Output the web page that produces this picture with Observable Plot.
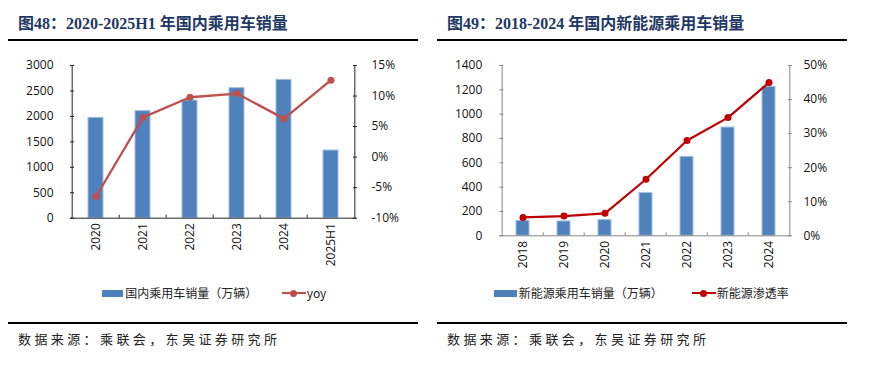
<!DOCTYPE html>
<html><head><meta charset="utf-8">
<script src="https://cdn.jsdelivr.net/npm/d3@7"></script>
<script src="https://cdn.jsdelivr.net/npm/@observablehq/plot@0.6"></script>
<style>
body{margin:0;background:#fff;width:895px;height:373px;position:relative;overflow:hidden;}
.title{position:absolute;top:15px;font:bold 16px "Liberation Serif","Noto Sans CJK SC",serif;color:#1F3864;white-space:nowrap;line-height:18px}
.rule{position:absolute;height:2px;background:#000}
.src{position:absolute;top:332px;font:13px/13px "Noto Sans CJK SC",sans-serif;letter-spacing:3.4px;color:#222;white-space:nowrap}
.chart{position:absolute;top:55px}
.lg{position:absolute;font:12px/12px "Noto Sans CJK SC",sans-serif;color:#222;white-space:nowrap}
.sw{position:absolute;height:7px;background:#4F81BD}
.ln{position:absolute;height:2.5px}
.dt{position:absolute;width:7px;height:7px;border-radius:50%}
</style>
</head><body>
<div class="title" style="left:18px">图48：2020-2025H1 年国内乘用车销量</div>
<div class="rule" style="left:8px;width:410px;top:39px"></div>
<div class="title" style="left:447px">图49：2018-2024 年国内新能源乘用车销量</div>
<div class="rule" style="left:437px;width:410px;top:39px"></div>
<div id="c1" class="chart" style="left:0px"></div>
<div id="c2" class="chart" style="left:440px"></div>
<div id="lg1"></div>
<div id="lg2"></div>
<div class="rule" style="left:8px;width:410px;top:322px"></div>
<div class="rule" style="left:437px;width:410px;top:322px"></div>
<div class="src" style="left:18px">数据来源：乘联会，东吴证券研究所</div>
<div class="src" style="left:447px">数据来源：乘联会，东吴证券研究所</div>
<script>
// ---- Data: chart 1 ----
const cats1 = ["2020", "2021", "2022", "2023", "2024", "2025H1"];
const sales1 = [1972, 2103, 2312, 2555, 2718, 1330];
const yoy1 = [-6.45, 6.5, 9.8, 10.4, 6.3, 12.6];
const yTicks1 = [0, 500, 1000, 1500, 2000, 2500, 3000];
const pTicks1 = [-10, -5, 0, 5, 10, 15];
const legend1 = ["国内乘用车销量（万辆）", "yoy"];

// ---- Data: chart 2 ----
const cats2 = ["2018", "2019", "2020", "2021", "2022", "2023", "2024"];
const sales2 = [123, 118, 129, 351, 649, 890, 1225];
const pen2 = [5.4, 5.8, 6.6, 16.6, 28.0, 34.7, 45.0];
const yTicks2 = [0, 200, 400, 600, 800, 1000, 1200, 1400];
const pTicks2 = [0, 10, 20, 30, 40, 50];
const legend2 = ["新能源乘用车销量（万辆）", "新能源渗透率"];

function dual({cats, sales, pct, yTicks, pTicks, w, h, ml, mr, mt, mb, axisColor, lineColor, lineWidth, padL, padR}) {
  const yMax = yTicks[yTicks.length - 1];
  const pScale = d3.scaleLinear([pTicks[0], pTicks[pTicks.length - 1]], [0, yMax]);
  const data = cats.map((c, i) => ({c, v: sales[i], p: pct[i]}));
  const step = (w - ml - mr) / cats.length;
  const tk = 3 * yMax / (h - mt - mb);
  const tickP = pTicks.map(p => pScale(p));
  const first = cats[0], last = cats[cats.length - 1];
  return Plot.plot({
    width: w, height: h, marginLeft: ml, marginRight: mr, marginTop: mt, marginBottom: mb,
    style: {fontFamily: "'Open Sans', sans-serif", fontSize: "12px", color: "#111", background: "transparent", overflow: "visible"},
    x: {type: "band", domain: cats, paddingInner: 0.68, paddingOuter: 0.34},
    y: {domain: [0, yMax]},
    marks: [
      Plot.barY(data, {x: "c", y: "v", fill: "#4F81BD", stroke: "#A3BEDF", strokeWidth: 1}),
      Plot.ruleY([0], {stroke: axisColor}),
      Plot.ruleX(cats.slice(1), {x: d => d, y1: 0, y2: tk, dx: -step / 2, stroke: axisColor}),
      Plot.ruleX([first], {x: d => d, y1: 0, y2: yMax, dx: -step / 2, stroke: axisColor}),
      Plot.ruleX([last], {x: d => d, y1: 0, y2: yMax, dx: step / 2, stroke: axisColor}),
      Plot.axisY(yTicks, {anchor: "left", tickSize: 0, tickPadding: padL, label: null, fill: "#111", tickFormat: d => String(d)}),
      Plot.axisY(yTicks, {anchor: "left", tickSize: 4, dx: 4, tickFormat: () => "", stroke: axisColor, label: null}),
      Plot.axisY(tickP, {anchor: "right", tickSize: 0, tickPadding: padR, label: null, fill: "#111",
        tickFormat: v => `${Math.round(pScale.invert(v))}%`}),
      Plot.axisY(tickP, {anchor: "right", tickSize: 4, dx: -4, tickFormat: () => "", stroke: axisColor, label: null}),
      Plot.axisX({tickSize: 0, tickPadding: 5, tickRotate: -90, label: null, fill: "#111"}),
      Plot.line(data, {x: "c", y: d => pScale(d.p), stroke: lineColor, strokeWidth: lineWidth}),
      Plot.dot(data, {x: "c", y: d => pScale(d.p), r: 3.5, fill: lineColor})
    ]
  });
}

document.getElementById("c1").append(dual({
  cats: cats1, sales: sales1, pct: yoy1, yTicks: yTicks1, pTicks: pTicks1,
  w: 430, h: 222.7, ml: 70, mr: 74, mt: 10, mb: 60, axisColor: "#222", lineColor: "#C0504D", lineWidth: 2.3, padL: 17, padR: 15
}));
document.getElementById("c2").append(dual({
  cats: cats2, sales: sales2, pct: pen2, yTicks: yTicks2, pTicks: pTicks2,
  w: 440, h: 220.3, ml: 59.3, mr: 89, mt: 10, mb: 40, axisColor: "#888", lineColor: "#C00000", lineWidth: 2.2, padL: 17.5, padR: 12
}));

function legend(el, labels, sx, tx, lx, ltx, lineColor) {
  const y = 293;
  el.innerHTML =
    `<div class="sw" style="left:${sx}px;width:${tx - sx - 2}px;top:${y - 3.5}px"></div>` +
    `<div class="lg" style="left:${tx}px;top:${y - 6}px">${labels[0]}</div>` +
    `<div class="ln" style="left:${lx}px;width:${ltx - lx - 1}px;top:${y - 1.25}px;background:${lineColor}"></div>` +
    `<div class="dt" style="left:${(lx + ltx) / 2 - 4}px;top:${y - 3.5}px;background:${lineColor}"></div>` +
    `<div class="lg" style="left:${ltx}px;top:${y - 6}px">${labels[1]}</div>`;
}
legend(document.getElementById("lg1"), legend1, 101.7, 125.3, 281.7, 306.7, "#C0504D");
legend(document.getElementById("lg2"), legend2, 494.3, 518.7, 691.7, 716.7, "#C00000");
</script>
</body></html>
